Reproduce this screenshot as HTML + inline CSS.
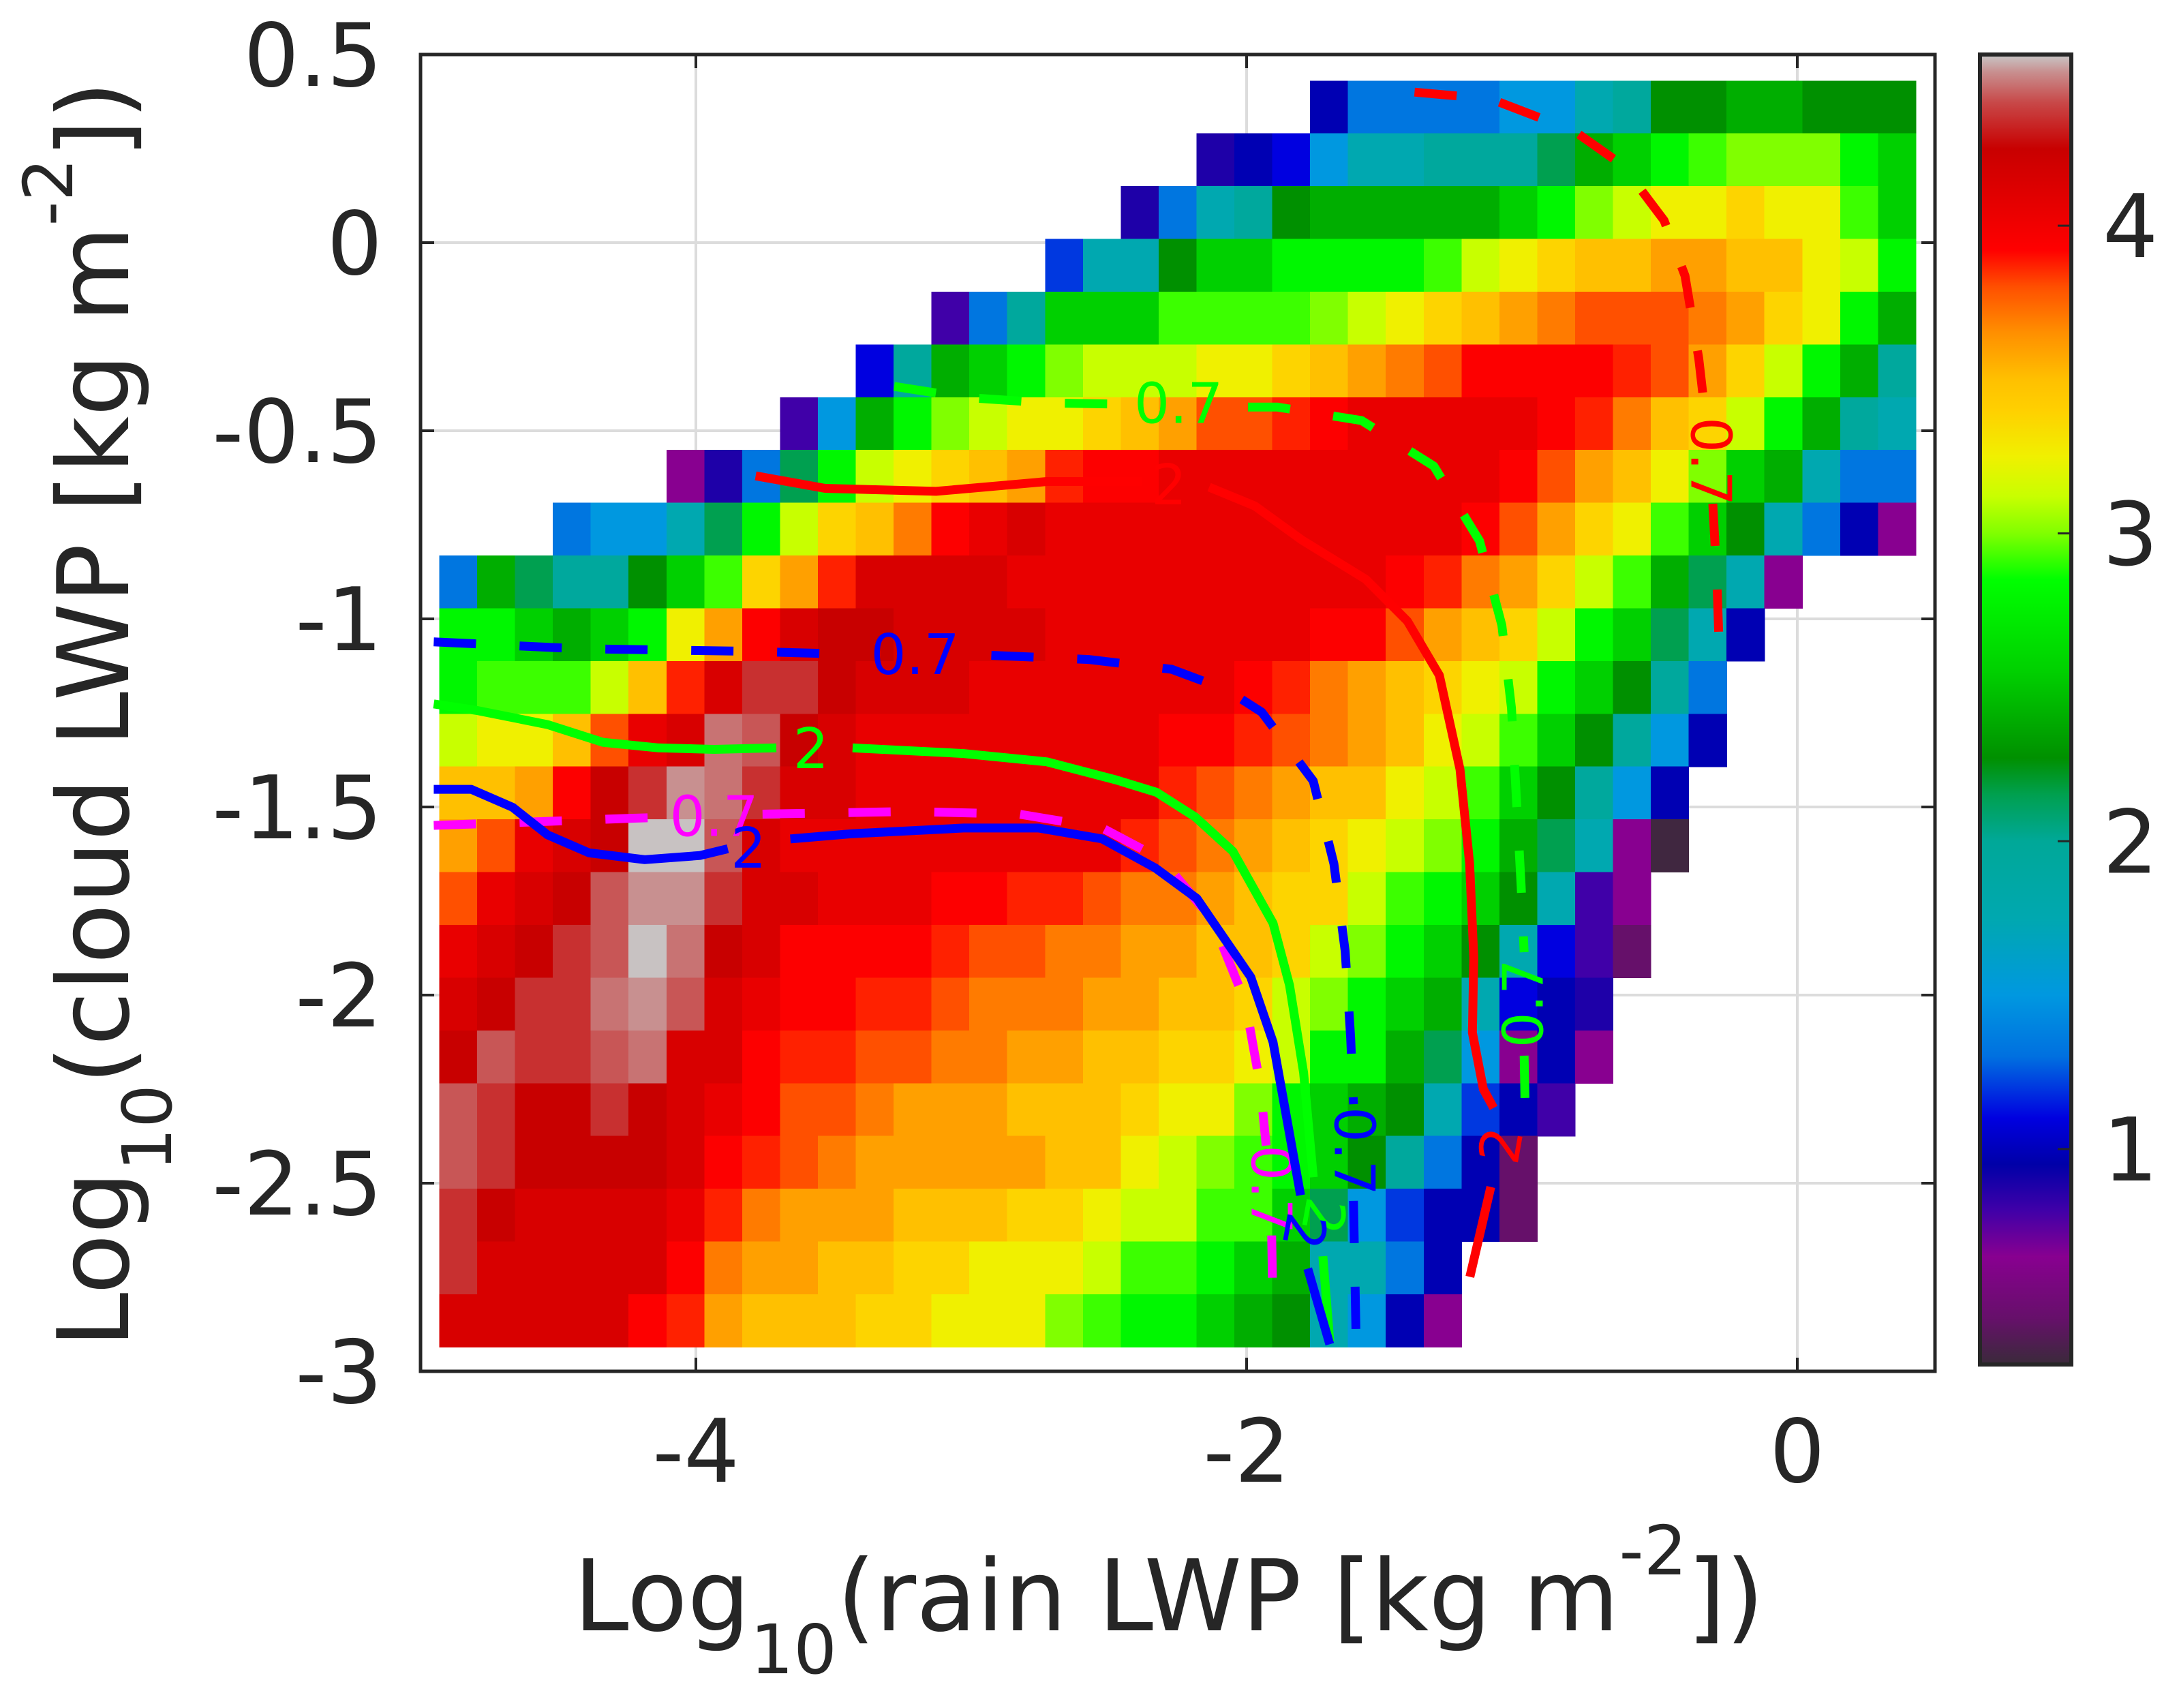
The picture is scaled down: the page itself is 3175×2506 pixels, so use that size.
<!DOCTYPE html>
<html>
<head>
<meta charset="utf-8">
<style>
  html, body { margin: 0; padding: 0; background: #ffffff; }
  svg { display: block; }
  text { font-family: "DejaVu Sans", "Liberation Sans", sans-serif; fill: #262626; }
</style>
</head>
<body>
<svg id="chart" xmlns="http://www.w3.org/2000/svg" width="3175" height="2506" viewBox="0 0 3175 2506">
  <rect x="0" y="0" width="3175" height="2506" fill="#ffffff"/>
  <g id="grid"></g>
  <g id="cells" shape-rendering="crispEdges"></g>
  <g id="contours"></g>
  <g id="axes"></g>
  <g id="colorbar"></g>
  <text x="1715" y="2392" font-size="145" text-anchor="middle">Log<tspan font-size="100" dy="63">10</tspan><tspan dy="-63">(rain LWP [kg m</tspan><tspan font-size="100" dy="-82">-2</tspan><tspan dy="82">])</tspan></text>
  <text transform="translate(188,1048) rotate(-90)" x="0" y="0" font-size="145" text-anchor="middle">Log<tspan font-size="100" dy="63">10</tspan><tspan dy="-63">(cloud LWP [kg m</tspan><tspan font-size="100" dy="-82">-2</tspan><tspan dy="82">])</tspan></text>
</svg>
<script>
// ---------- data ----------
const xTicks = [-4, -2, 0];
const xTickLabels = ["-4", "-2", "0"];
const yTicks = [0.5, 0, -0.5, -1, -1.5, -2, -2.5, -3];
const yTickLabels = ["0.5", "0", "-0.5", "-1", "-1.5", "-2", "-2.5", "-3"];
const cbTicks = [1, 2, 3, 4];
const cbTickLabels = ["1", "2", "3", "4"];
const xCellStart = -4.932;
const xCellStep = 0.1375;
const yCellStart = 0.4306;
const yCellStep = 0.14025;
// value for each cell code letter ('.' = no data)
const codeKeys = "0123456789ABCDEFGHIJKLMNOPQRSTUVWXYZ";
const codeValues = [0.32,0.45,0.65,0.80,0.88,0.98,1.10,1.20,1.33,1.50,1.75,1.95,2.15,2.27,2.40,2.55,2.80,2.92,3.00,3.12,3.25,3.38,3.50,3.60,3.70,3.80,3.87,3.93,4.05,4.15,4.25,4.35,4.42,4.46,4.50,4.55];
const rowCodes = [
  "......................." + "5888899ABDDEEDDD",
  "...................." + "4569AABBBCEFGHIIIGF",
  ".................." + "48ABDEEEEEFGIJKKLKKHF",
  "................" + "7AADFFGGGGHJKLMMNNMMKJG",
  "............." + "38BFFFHHHHIJKLMNOPPPONLKGE",
  "..........." + "6BEFGIJJJKKLMNOPRRRRQPNLJGEB",
  "........." + "39EGIJKKLMNPPQRSSSSSRQOMLJGEBA",
  "......" + "248CGJKLMNQRRSSSSSSSSSRPNMKIFEA88",
  "..." + "899ACGJLMORSTSSSSSSSSSSSRPNLKHFDA852",
  "8ECBBDFHLNQTTTTSSSSSSSSSSRQONLJHECA2" + "...",
  "GGFEFGKNRTUUTTTTSSSSSSSRRPNMLJGFCA5" + "....",
  "GHHHJMQTVVUTTTSSSSSSSRQONMLKJGFDB8" + ".....",
  "JKKMPSTXWUTSSSSSSSSRRQPONMKJHFDB95" + ".....",
  "MMNRUVYXVTTSSSSSSSSQPONMMKJHFDB95" + "......",
  "NPSTUZZWTSSSSSSSSSQPONMLKJIGECA20" + "......",
  "PSTUWYYVTTSSSRRQQPOONMLLJHGFDA32" + ".......",
  "STUVWZXUTRRRRQPPOONNMMLJIGFDA631" + ".......",
  "TUVVXYWTSRRQQPOOONNMMLJIGFEA654" + "........",
  "UWVVWXTTRQQPPOONNMMLLKJGGEC9252" + "........",
  "WVUUVUTSRPPONNNMMMLKKIGFEDA753" + ".........",
  "WVUUUUTRQPONNNNNMMKJIHGFDB851" + "..........",
  "VUTTTTSQONNNMMMLLKJJHHFC975511".slice(0,29) + "..........",
  "VTTTTTRONNMMLLKKKJHHGFEAA85" + "............",
  "TTTTTRQNMMMLLKKKIHGGFEDA952" + "............"
];
// colormap stops
const cmapValues = [0.30,0.45,0.65,0.80,0.95,1.10,1.30,1.50,1.75,2.00,2.15,2.27,2.55,2.85,3.00,3.12,3.25,3.40,3.50,3.65,3.80,3.92,4.10,4.25,4.40,4.50,4.556];
const cmapColors = ["#3a2a3a","#66106a","#880090","#4000a8","#0000a8","#0000e0","#0070e0","#0098e0","#00a8b0","#00a898","#00a050","#009000","#00d000","#00ff00","#80ff00","#c8ff00","#f0f000","#ffd000","#ffc000","#ff9000","#ff5000","#ff0000","#e00000","#c80000","#c84848","#c89090","#c8c8c8"];
const cMin = 0.30, cMax = 4.556;

// contour segments [x, y] in data units
const red2 = [
  [[-3.783,-0.620],[-3.531,-0.653],[-3.128,-0.661],[-2.725,-0.635],[-2.380,-0.635]],
  [[-2.136,-0.650],[-1.970,-0.700],[-1.800,-0.790],[-1.567,-0.895],[-1.416,-1.006],[-1.300,-1.150],[-1.225,-1.400],[-1.190,-1.650],[-1.175,-1.900],[-1.180,-2.100],[-1.140,-2.250],[-1.103,-2.300]],
  [[-1.113,-2.510],[-1.189,-2.749]]
];
const red07 = [
  [[-1.390,0.400],[-1.113,0.382],[-0.811,0.297],[-0.635,0.206],[-0.484,0.059],[-0.408,-0.088],[-0.358,-0.308],[-0.332,-0.473]],
  [[-0.307,-0.694],[-0.292,-0.895],[-0.282,-1.116]]
];
const green07 = [
  [[-3.280,-0.382],[-3.028,-0.411],[-2.725,-0.426],[-2.474,-0.429]],
  [[-1.995,-0.437],[-1.889,-0.437],[-1.582,-0.473],[-1.320,-0.594],[-1.154,-0.793],[-1.073,-1.017],[-1.038,-1.237],[-1.003,-1.710],[-0.992,-1.886]],
  [[-0.992,-2.161],[-0.987,-2.363]]
];
const green2 = [
  [[-4.952,-1.226],[-4.791,-1.244],[-4.539,-1.281],[-4.338,-1.328],[-4.136,-1.343],[-3.934,-1.347],[-3.708,-1.343]],
  [[-3.431,-1.343],[-3.028,-1.358],[-2.725,-1.380],[-2.474,-1.428],[-2.327,-1.461],[-2.186,-1.527],[-2.050,-1.618],[-1.904,-1.809],[-1.844,-1.974],[-1.793,-2.206],[-1.758,-2.484]],
  [[-1.723,-2.694],[-1.698,-2.921]]
];
const blue2 = [
  [[-4.952,-1.453],[-4.816,-1.453],[-4.665,-1.501],[-4.539,-1.574],[-4.388,-1.622],[-4.186,-1.640],[-3.985,-1.629],[-3.884,-1.611]],
  [[-3.657,-1.585],[-3.431,-1.571],[-3.028,-1.556],[-2.756,-1.556],[-2.524,-1.585],[-2.332,-1.662],[-2.181,-1.743],[-1.985,-1.952],[-1.904,-2.125],[-1.804,-2.532]],
  [[-1.778,-2.727],[-1.698,-2.928]]
];
const blue07 = [
  [[-4.952,-1.061],[-4.438,-1.079],[-3.834,-1.086],[-3.431,-1.094]],
  [[-2.927,-1.097],[-2.574,-1.108],[-2.272,-1.134],[-2.071,-1.189],[-1.945,-1.248],[-1.758,-1.431],[-1.683,-1.651],[-1.642,-1.883],[-1.622,-2.114],[-1.612,-2.290]],
  [[-1.612,-2.547],[-1.602,-2.928]]
];
const mag07 = [
  [[-4.952,-1.549],[-4.640,-1.541],[-4.237,-1.530],[-4.086,-1.527]],
  [[-3.758,-1.519],[-3.229,-1.512],[-2.826,-1.519],[-2.524,-1.556],[-2.307,-1.640],[-2.126,-1.798],[-2.005,-2.018],[-1.950,-2.242],[-1.929,-2.400]],
  [[-1.909,-2.639],[-1.904,-2.859]]
];
// contour labels: [x, y, text, rotation]
const red2Labels = [[-2.282,-0.646,"2",0],[-1.073,-2.400,"2",-80]];
const red07Labels = [[-0.317,-0.582,"0.7",90]];
const green07Labels = [[-2.247,-0.429,"0.7",0],[-0.992,-2.022,"0.7",-90]];
const green2Labels = [[-3.582,-1.347,"2",0],[-1.723,-2.587,"2",100]];
const blue2Labels = [[-3.809,-1.611,"2",0],[-1.793,-2.627,"2",100]];
const blue07Labels = [[-3.204,-1.097,"0.7",0],[-1.612,-2.415,"0.7",90]];
const mag07Labels = [[-3.934,-1.527,"0.7",0],[-1.914,-2.517,"0.7",90]];

// ---------- geometry ----------
const PL = 617, PR = 2839, PT = 80, PB = 2012;
const XMIN = -5, XMAX = 0.5, YMIN = -3, YMAX = 0.5;
function sx(x) { return PL + (x - XMIN) / (XMAX - XMIN) * (PR - PL); }
function sy(y) { return PT + (YMAX - y) / (YMAX - YMIN) * (PB - PT); }
const CBL = 2905, CBR = 3039, CBT = 80, CBB = 2002;
function cy(v) { return CBT + (cMax - v) / (cMax - cMin) * (CBB - CBT); }

function hex2rgb(h) { return [parseInt(h.substr(1,2),16), parseInt(h.substr(3,2),16), parseInt(h.substr(5,2),16)]; }
function colorFor(v) {
  if (v <= cmapValues[0]) return cmapColors[0];
  for (let i = 1; i < cmapValues.length; i++) {
    if (v <= cmapValues[i]) {
      const t = (v - cmapValues[i-1]) / (cmapValues[i] - cmapValues[i-1]);
      const a = hex2rgb(cmapColors[i-1]), b = hex2rgb(cmapColors[i]);
      return "rgb(" + [0,1,2].map(k => Math.round(a[k] + (b[k]-a[k]) * t)).join(",") + ")";
    }
  }
  return cmapColors[cmapColors.length - 1];
}
const NS = "http://www.w3.org/2000/svg";
function mk(tag, attrs, parent) {
  const el = document.createElementNS(NS, tag);
  for (const k in attrs) el.setAttribute(k, attrs[k]);
  parent.appendChild(el);
  return el;
}

// grid
const gGrid = document.getElementById("grid");
xTicks.forEach(function (t) {
  const l = mk("line", {x1: sx(t), x2: sx(t), y1: PT, y2: PB, stroke: "#dcdcdc", "stroke-width": 4}, gGrid);
  
  
});
yTicks.forEach(function (t) {
  const l = mk("line", {x1: PL, x2: PR, y1: sy(t), y2: sy(t), stroke: "#dcdcdc", "stroke-width": 4}, gGrid);
  
  
});

// heatmap cells
const gCells = document.getElementById("cells");
rowCodes.forEach(function (row, r) {
  for (let c = 0; c < row.length; c++) {
    const ch = row[c];
    const idx = codeKeys.indexOf(ch);
    if (idx < 0) continue;
    const v = codeValues[idx];
    const x0 = sx(xCellStart + c * xCellStep), x1 = sx(xCellStart + (c + 1) * xCellStep);
    const y0 = sy(yCellStart - r * yCellStep), y1 = sy(yCellStart - (r + 1) * yCellStep);
    const rect = mk("rect", {x: x0, y: y0, width: x1 - x0 + 0.6, height: y1 - y0 + 0.6, fill: colorFor(v)}, gCells);
    
    
  }
});

// contours
const gC = document.getElementById("contours");
function drawContour(segs, labels, color, dashed, name) {
  segs.forEach(function (seg) {
    const d = seg.map((p, i) => (i ? "L" : "M") + sx(p[0]).toFixed(1) + "," + sy(p[1]).toFixed(1)).join(" ");
    const attrs = {d: d, fill: "none", stroke: color, "stroke-width": 13, "stroke-linejoin": "round"};
    if (dashed) attrs["stroke-dasharray"] = "62,64";
    const p = mk("path", attrs, gC);
    
    
  });
  labels.forEach(function (lb) {
    const X = sx(lb[0]), Y = sy(lb[1]);
    const t = mk("text", {x: X, y: Y, "font-size": 82, "text-anchor": "middle", "dominant-baseline": "central", transform: "rotate(" + lb[3] + "," + X + "," + Y + ")"}, gC);
    t.style.fill = color;
    t.textContent = lb[2];
    
    
  });
}
drawContour(red2, red2Labels, "#ff0000", false, "red-contour-2");
drawContour(red07, red07Labels, "#ff0000", true, "red-contour-0-7");
drawContour(green07, green07Labels, "#00ff00", true, "green-contour-0-7");
drawContour(green2, green2Labels, "#00ff00", false, "green-contour-2");
drawContour(mag07, mag07Labels, "#ff00ff", true, "magenta-contour-0-7");
drawContour(blue07, blue07Labels, "#0000ff", true, "blue-contour-0-7");
drawContour(blue2, blue2Labels, "#0000ff", false, "blue-contour-2");

// axes frame, ticks, labels
const gA = document.getElementById("axes");
const frame = mk("rect", {x: PL, y: PT, width: PR - PL, height: PB - PT, fill: "none", stroke: "#262626", "stroke-width": 5}, gA);


xTicks.forEach(function (t, i) {
  const X = sx(t);
  const l1 = mk("line", {x1: X, x2: X, y1: PB, y2: PB - 20, stroke: "#262626", "stroke-width": 4}, gA);
  
  
  const l2 = mk("line", {x1: X, x2: X, y1: PT, y2: PT + 20, stroke: "#262626", "stroke-width": 4}, gA);
  
  
  const tx = mk("text", {x: X, y: 2174, "font-size": 128, "text-anchor": "middle"}, gA);
  tx.textContent = xTickLabels[i];
  
  
});
yTicks.forEach(function (t, i) {
  const Y = sy(t);
  const l1 = mk("line", {x1: PL, x2: PL + 20, y1: Y, y2: Y, stroke: "#262626", "stroke-width": 4}, gA);
  
  
  const l2 = mk("line", {x1: PR, x2: PR - 20, y1: Y, y2: Y, stroke: "#262626", "stroke-width": 4}, gA);
  
  
  const tx = mk("text", {x: 561, y: Y + 46, "font-size": 128, "text-anchor": "end"}, gA);
  tx.textContent = yTickLabels[i];
  
  
});

// colorbar
const gCB = document.getElementById("colorbar");
const defs = mk("defs", {}, gCB);
const grad = mk("linearGradient", {id: "cbgrad", x1: 0, y1: 0, x2: 0, y2: 1}, defs);
for (let i = cmapValues.length - 1; i >= 0; i--) {
  mk("stop", {offset: ((cMax - cmapValues[i]) / (cMax - cMin)).toFixed(4), "stop-color": cmapColors[i]}, grad);
}
const cbRect = mk("rect", {x: CBL, y: CBT, width: CBR - CBL, height: CBB - CBT, fill: "url(#cbgrad)", stroke: "#262626", "stroke-width": 6}, gCB);


cbTicks.forEach(function (t, i) {
  const Y = cy(t);
  const l = mk("line", {x1: CBR - 20, x2: CBR, y1: Y, y2: Y, stroke: "#262626", "stroke-width": 3}, gCB);
  
  
  const tx = mk("text", {x: 3085, y: Y + 46, "font-size": 128, "text-anchor": "start"}, gCB);
  tx.textContent = cbTickLabels[i];
  
  
});
</script>
</body>
</html>
